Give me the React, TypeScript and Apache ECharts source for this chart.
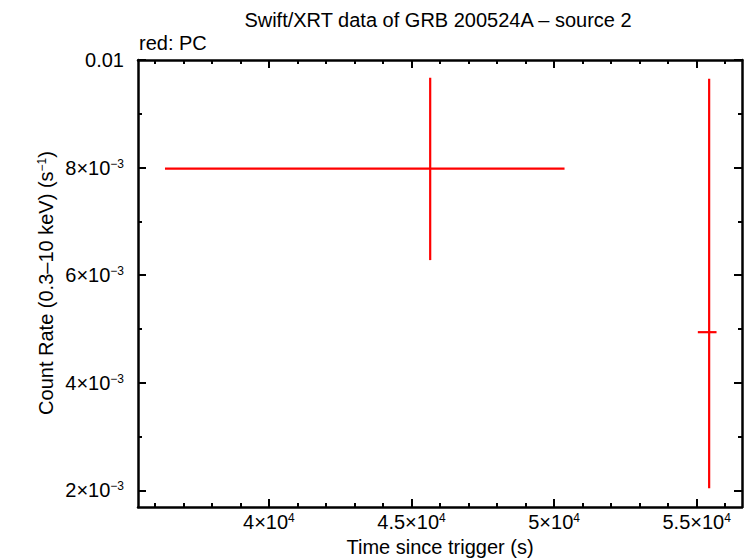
import React, { useEffect, useRef } from 'react';
import * as echarts from 'echarts';

// light curve points (PC mode)
const times = [45656, 55438];
const timeLo = [36356, 55041];
const timeHi = [50367, 55697];
const rates = [0.00798, 0.00494];
const rateLo = [0.00628, 0.00204];
const rateHi = [0.00967, 0.00965];

const xMajor = [40000, 45000, 50000, 55000];
const xMinor = [36000, 37000, 38000, 39000, 41000, 42000, 43000, 44000, 46000, 47000, 48000, 49000, 51000, 52000, 53000, 54000, 56000];
const xTickLabels = ['{b|4×10}{s|4}', '{b|4.5×10}{s|4}', '{b|5×10}{s|4}', '{b|5.5×10}{s|4}'];

const yMajor = [0.002, 0.004, 0.006, 0.008, 0.01];
const yMinor = [0.003, 0.005, 0.007, 0.009];
const yTickLabels = ['{b|2×10}{s|−3}', '{b|4×10}{s|−3}', '{b|6×10}{s|−3}', '{b|8×10}{s|−3}', '{b|0.01}'];

const FONT = '"Liberation Sans", Arial, Helvetica, sans-serif';
const FS = 20;

const rich = {
  b: { fontSize: FS, fontFamily: FONT, color: '#000', lineHeight: 20 },
  s: { fontSize: 12, fontFamily: FONT, color: '#000', verticalAlign: 'top' as const, lineHeight: 12 },
};

const pick = (ticks: number[], labels: string[], v: number) => {
  let best = 0;
  ticks.forEach((t, i) => {
    if (Math.abs(t - v) < Math.abs(ticks[best] - v)) best = i;
  });
  return labels[best];
};

const App: React.FC = () => {
  const chartRef = useRef<HTMLDivElement | null>(null);

  useEffect(() => {
    if (!chartRef.current) return;
    const chart = echarts.init(chartRef.current, null, { renderer: 'svg' });

    const xMin = 35410;
    const xMax = 56590;
    const yMin = 0.00169;
    const yMax = 0.01;

    const axisLine = { show: true, lineStyle: { color: '#000', width: 2.5 } };
    const xAx = (position: 'top' | 'bottom', ticks: number[], len: number, labels: boolean, line: boolean) => ({
      type: 'value',
      min: xMin,
      max: xMax,
      position,
      axisLine: line ? axisLine : { show: false },
      axisTick: { show: true, inside: true, length: len, customValues: ticks, lineStyle: { color: '#000', width: 2 } },
      axisLabel: labels
        ? { show: true, customValues: ticks, margin: 5, formatter: (v: number) => pick(xMajor, xTickLabels, v), rich }
        : { show: false },
      splitLine: { show: false },
    });
    const yAx = (position: 'left' | 'right', ticks: number[], len: number, labels: boolean, line: boolean) => ({
      type: 'value',
      min: yMin,
      max: yMax,
      position,
      axisLine: line ? axisLine : { show: false },
      axisTick: { show: true, inside: true, length: len, customValues: ticks, lineStyle: { color: '#000', width: 2 } },
      axisLabel: labels
        ? { show: true, customValues: ticks, margin: 14, formatter: (v: number) => pick(yMajor, yTickLabels, v), rich }
        : { show: false },
      splitLine: { show: false },
    });

    const points = times.map((t, i) => [t, rates[i], timeLo[i], timeHi[i], rateLo[i], rateHi[i]]);

    const option = {
      animation: false,
      grid: { left: 138, right: 4, top: 60, bottom: 51 },
      xAxis: [
        xAx('bottom', xMajor, 8, true, true),
        xAx('bottom', xMinor, 4, false, false),
        xAx('top', xMajor, 8, false, true),
        xAx('top', xMinor, 4, false, false),
      ],
      yAxis: [
        yAx('left', yMajor, 8, true, true),
        yAx('left', yMinor, 4, false, false),
        yAx('right', yMajor, 8, false, true),
        yAx('right', yMinor, 4, false, false),
      ],
      graphic: [
        {
          type: 'text',
          x: 438,
          y: 20,
          style: { text: 'Swift/XRT data of GRB 200524A – source 2', font: `${FS}px ${FONT}`, fill: '#000', align: 'center', verticalAlign: 'middle' },
        },
        {
          type: 'text',
          x: 139,
          y: 43,
          style: { text: 'red: PC', font: `${FS}px ${FONT}`, fill: '#000', align: 'left', verticalAlign: 'middle' },
        },
        {
          type: 'text',
          x: 440,
          y: 547,
          style: { text: 'Time since trigger (s)', font: `${FS}px ${FONT}`, fill: '#000', align: 'center', verticalAlign: 'middle' },
        },
        {
          type: 'text',
          x: 46,
          y: 283,
          rotation: Math.PI / 2,
          style: {
            text: '{b|Count Rate (0.3–10 keV) (s}{s|−1}{b|)}',
            rich,
            align: 'center',
            verticalAlign: 'middle',
          },
        },
      ],
      series: [
        {
          type: 'custom',
          xAxisIndex: 0,
          yAxisIndex: 0,
          data: points,
          encode: { x: [0, 2, 3], y: [1, 4, 5] },
          renderItem: (_params: any, api: any) => {
            const x = api.value(0);
            const y = api.value(1);
            const l = api.coord([api.value(2), y]);
            const r = api.coord([api.value(3), y]);
            const b = api.coord([x, api.value(4)]);
            const t = api.coord([x, api.value(5)]);
            const style = { stroke: '#ff0000', lineWidth: 2.2 };
            return {
              type: 'group',
              children: [
                { type: 'line', shape: { x1: l[0], y1: l[1], x2: r[0], y2: r[1] }, style },
                { type: 'line', shape: { x1: t[0], y1: t[1], x2: b[0], y2: b[1] }, style },
              ],
            };
          },
        },
      ],
    };

    chart.setOption(option);
    return () => {
      chart.dispose();
    };
  }, []);

  return (
    <div
      ref={chartRef}
      style={{ position: 'fixed', left: 0, top: 0, width: '746px', height: '558px', background: '#fff' }}
    />
  );
};

export default App;
